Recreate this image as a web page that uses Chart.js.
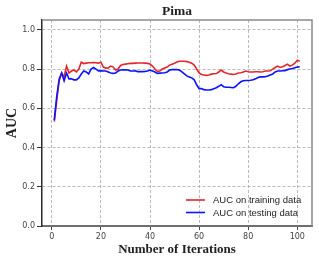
<!DOCTYPE html>
<html>
<head>
<meta charset="utf-8">
<script src="https://cdn.jsdelivr.net/npm/chart.js@4/dist/chart.umd.min.js"></script>
<style>
html,body{margin:0;padding:0;background:#fff;}
#wrap{width:319px;height:263px;}
</style>
</head>
<body>
<div id="wrap"><canvas id="c" width="319" height="263"></canvas></div>
<script>
const titleText = "Pima";
const xAxisTitle = "Number of Iterations";
const yAxisTitle = "AUC";
const xTicks = [0, 20, 40, 60, 80, 100];
const yTicks = [0.0, 0.2, 0.4, 0.6, 0.8, 1.0];
const seriesNames = ["AUC on training data", "AUC on testing data"];

const iterations = [];
for (let i = 1; i <= 101; i++) iterations.push(i);

const trainAUC = [
  0.532, 0.640, 0.740, 0.780, 0.760, 0.815, 0.780, 0.790, 0.795, 0.785,
  0.800, 0.835, 0.828, 0.830, 0.832, 0.832, 0.833, 0.832, 0.830, 0.835,
  0.810, 0.805, 0.806, 0.815, 0.810, 0.795, 0.800, 0.818, 0.823, 0.825,
  0.827, 0.829, 0.829, 0.830, 0.831, 0.831, 0.831, 0.830, 0.829, 0.826,
  0.815, 0.800, 0.788, 0.790, 0.800, 0.805, 0.810, 0.820, 0.825, 0.830,
  0.836, 0.840, 0.840, 0.840, 0.838, 0.835, 0.830, 0.820, 0.800, 0.780,
  0.772, 0.770, 0.768, 0.770, 0.774, 0.776, 0.777, 0.785, 0.795, 0.785,
  0.780, 0.776, 0.774, 0.772, 0.775, 0.780, 0.781, 0.785, 0.790, 0.786,
  0.785, 0.785, 0.786, 0.786, 0.785, 0.786, 0.790, 0.790, 0.791, 0.800,
  0.808, 0.815, 0.808, 0.812, 0.818, 0.825, 0.815, 0.820, 0.830, 0.845,
  0.840
];

const testAUC = [
  0.540, 0.660, 0.750, 0.780, 0.740, 0.780, 0.750, 0.750, 0.745, 0.745,
  0.755, 0.775, 0.790, 0.785, 0.775, 0.800, 0.808, 0.800, 0.790, 0.792,
  0.790, 0.790, 0.785, 0.780, 0.778, 0.780, 0.790, 0.795, 0.796, 0.796,
  0.795, 0.790, 0.790, 0.791, 0.787, 0.787, 0.787, 0.788, 0.790, 0.795,
  0.790, 0.785, 0.778, 0.779, 0.780, 0.781, 0.785, 0.795, 0.797, 0.797,
  0.797, 0.795, 0.785, 0.775, 0.765, 0.760, 0.755, 0.745, 0.720, 0.700,
  0.700, 0.695, 0.693, 0.693, 0.695, 0.700, 0.705, 0.712, 0.720, 0.710,
  0.707, 0.707, 0.706, 0.705, 0.712, 0.725, 0.735, 0.740, 0.742, 0.742,
  0.743, 0.745, 0.750, 0.757, 0.760, 0.760, 0.761, 0.765, 0.770, 0.775,
  0.785, 0.790, 0.790, 0.791, 0.792, 0.797, 0.800, 0.803, 0.807, 0.810,
  0.812
];

const colors = ["#e3262b", "#0a14ff"];

const toPoints = (ys) => iterations.map((x, i) => ({x: x, y: ys[i]}));

const framePlugin = {
  id: 'frameLegend',
  afterDraw(chart) {
    const ctx = chart.ctx;
    const a = chart.chartArea;
    ctx.save();
    ctx.strokeStyle = '#8a8a8a';
    ctx.lineWidth = 1.5;
    ctx.beginPath();
    ctx.moveTo(a.left, a.top);
    ctx.lineTo(a.right, a.top);
    ctx.lineTo(a.right, a.bottom);
    ctx.stroke();
    const rows = [a.bottom - 26, a.bottom - 13.5];
    chart.data.datasets.slice().sort((p, q) => p.legendIndex - q.legendIndex).forEach((ds, k) => {
      const y = rows[k];
      ctx.strokeStyle = ds.borderColor;
      ctx.lineWidth = 1.6;
      ctx.beginPath();
      ctx.moveTo(a.right - 126, y);
      ctx.lineTo(a.right - 107, y);
      ctx.stroke();
      ctx.fillStyle = '#222';
      ctx.font = '9.5px "Liberation Sans", Arial, sans-serif';
      ctx.textBaseline = 'middle';
      ctx.textAlign = 'left';
      ctx.fillText(ds.label, a.right - 99, y + 0.5);
    });
    ctx.restore();
  }
};

new Chart(document.getElementById('c'), {
  type: 'scatter',
  data: {
    datasets: [
      {label: seriesNames[1], data: toPoints(testAUC), borderColor: colors[1], backgroundColor: colors[1],
       showLine: true, pointRadius: 0, borderWidth: 1.6, order: 0, legendIndex: 1},
      {label: seriesNames[0], data: toPoints(trainAUC), borderColor: colors[0], backgroundColor: colors[0],
       showLine: true, pointRadius: 0, borderWidth: 1.6, order: 1, legendIndex: 0}
    ]
  },
  plugins: [framePlugin],
  options: {
    responsive: false,
    animation: false,
    devicePixelRatio: 1,
    layout: {padding: {left: 0, right: 7, top: 0, bottom: 0}},
    plugins: {
      legend: {display: false},
      tooltip: {enabled: false},
      title: {
        display: true, text: titleText, fullSize: false, color: '#222',
        font: {family: '"Liberation Serif", "Times New Roman", serif', size: 13.5, weight: 'bold', lineHeight: 1.2},
        padding: {top: 3, bottom: 0.8}
      }
    },
    scales: {
      x: {
        type: 'linear', min: -4, max: 106,
        afterBuildTicks: (s) => { s.ticks = xTicks.map(v => ({value: v})); },
        afterFit: (s) => { s.height = 37; },
        ticks: {color: '#444', font: {family: '"DejaVu Sans", sans-serif', size: 8}, padding: 2, maxRotation: 0,
                callback: (v) => String(v)},
        grid: {color: '#a8a8a8', lineWidth: 0.8, tickLength: 4, tickColor: '#444', tickWidth: 1},
        border: {display: true, color: '#6e6e6e', width: 2, dash: [3, 2]},
        title: {display: true, text: xAxisTitle, color: '#222',
                font: {family: '"Liberation Serif", "Times New Roman", serif', size: 13, weight: 'bold', lineHeight: 1.2},
                padding: {top: 6, bottom: 6}}
      },
      y: {
        type: 'linear', min: 0, max: 1.05,
        afterBuildTicks: (s) => { s.ticks = yTicks.map(v => ({value: v})); },
        afterFit: (s) => { s.width = 42; },
        ticks: {color: '#444', font: {family: '"DejaVu Sans", sans-serif', size: 8}, padding: 2,
                callback: (v) => Number(v).toFixed(1)},
        grid: {color: '#a8a8a8', lineWidth: 0.8, tickLength: 5, tickColor: '#333', tickWidth: 1},
        border: {display: true, color: '#2a2a2a', width: 1.5, dash: [3, 2]},
        title: {display: true, text: yAxisTitle, color: '#222',
                font: {family: '"Liberation Serif", "Times New Roman", serif', size: 14, weight: 'bold', lineHeight: 1.2},
                padding: {top: 4, bottom: 4}}
      }
    }
  }
});
</script>
</body>
</html>
